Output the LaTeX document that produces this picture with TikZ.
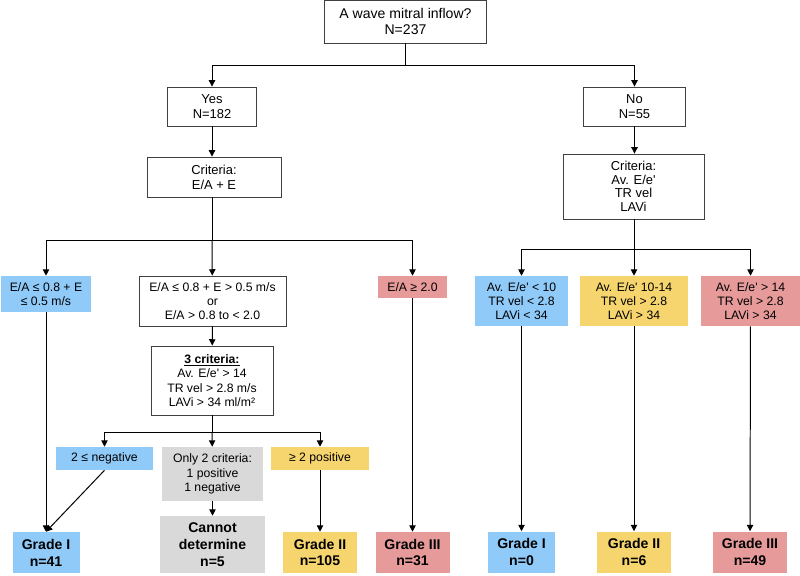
\documentclass[tikz,border=0pt]{standalone}
\usepackage{fontspec}
\setmainfont{Liberation Sans}[Ligatures=TeXOff]
\usepackage{xcolor}
\usepackage{tikz}
\usetikzlibrary{arrows.meta,positioning}
\definecolor{figBlue}{HTML}{8FCAF9}
\definecolor{figYellow}{HTML}{F7D56E}
\definecolor{figRed}{HTML}{E69A9A}
\definecolor{figGray}{HTML}{D9D9D9}
\definecolor{figDark}{HTML}{404040}
\newdimen\pxu \pxu=0.025cm

\begin{document}
\begin{tikzpicture}[
  x=0.025cm, y=-0.025cm,
  box/.style={
    rectangle, draw=figDark, line width=0.6pt, fill=white,
    align=center, inner sep=1pt,
    font=\fontsize{8.7}{10.2}\selectfont
  },
  step box/.style={
    box, font=\fontsize{9.2}{10.6}\selectfont
  },
  tint/.style={
    rectangle, align=center, inner sep=1pt,
    font=\fontsize{8.7}{10.2}\selectfont
  },
  grade/.style={
    tint, font=\fontsize{10}{12}\selectfont\bfseries,
    minimum height=41\pxu
  },
  arr/.style={-{Triangle[length=4.5pt,width=4.5pt]}, line width=0.7pt, black}
]
\useasboundingbox (0,0) rectangle (800,576);

% Root
\node[box, font=\fontsize{10}{12}\selectfont, minimum width=162\pxu, minimum height=43\pxu]
  (root) at (405.5,21.5) {A wave mitral inflow?\\N=237};

% Yes branch
\node[step box, minimum width=89\pxu, minimum height=39\pxu]
  (yes) at (212,106.5) {Yes\\N=182};
\node[step box, minimum width=134\pxu, minimum height=40\pxu]
  (critA) at (214,177) {Criteria:\\E/A + E};

\node[tint, fill=figBlue, minimum width=90\pxu, minimum height=36\pxu]
  (eaLow) at (46,294) {E/A ≤ 0.8 + E\\≤ 0.5 m/s};
\node[box, minimum width=147\pxu, minimum height=50\pxu]
  (eaMid) at (212.5,301) {E/A ≤ 0.8 + E > 0.5 m/s\\or\\E/A > 0.8 to < 2.0};
\node[tint, fill=figRed, minimum width=69\pxu, minimum height=22\pxu]
  (eaHigh) at (412.5,287) {E/A ≥ 2.0};

\node[box, minimum width=122\pxu, minimum height=69\pxu]
  (three) at (212,380.5) {\underline{\textbf{3 criteria:}}\\Av. E/e' > 14\\TR vel > 2.8 m/s\\LAVi > 34 ml/m²};

\node[tint, fill=figBlue, minimum width=97\pxu, minimum height=23\pxu]
  (neg) at (104.5,458.5) {2 ≤ negative};
\node[tint, fill=figGray, minimum width=101\pxu, minimum height=54\pxu]
  (onlyTwo) at (212.5,474) {Only 2 criteria:\\1 positive\\1 negative};
\node[tint, fill=figYellow, minimum width=98\pxu, minimum height=23\pxu]
  (pos) at (320,458.5) {≥ 2 positive};

\node[grade, fill=figBlue, minimum width=67\pxu] (gradeOneA) at (46,552.5) {Grade I\\n=41};
\node[grade, fill=figGray, minimum width=105\pxu, minimum height=57\pxu]
  (unknown) at (212.5,544.5) {Cannot\\determine\\n=5};
\node[grade, fill=figYellow, minimum width=74\pxu] (gradeTwoA) at (320,552.5) {Grade II\\n=105};
\node[grade, fill=figRed, minimum width=74\pxu] (gradeThreeA) at (412.5,552.5) {Grade III\\n=31};

% No branch
\node[step box, minimum width=102\pxu, minimum height=39\pxu]
  (no) at (634.5,106.5) {No\\N=55};
\node[step box, font=\fontsize{9.2}{9.6}\selectfont, minimum width=141\pxu, minimum height=65\pxu]
  (critB) at (633.5,186.5) {Criteria:\\Av. E/e'\\TR vel\\LAVi};

\node[tint, fill=figBlue, minimum width=93\pxu, minimum height=50\pxu]
  (rLow) at (521.5,301) {Av. E/e' < 10\\TR vel < 2.8\\LAVi < 34};
\node[tint, fill=figYellow, minimum width=108\pxu, minimum height=50\pxu]
  (rMid) at (634,301) {Av. E/e' 10-14\\TR vel > 2.8\\LAVi > 34};
\node[tint, fill=figRed, minimum width=99\pxu, minimum height=50\pxu]
  (rHigh) at (750.5,301) {Av. E/e' > 14\\TR vel > 2.8\\LAVi > 34};

\node[grade, fill=figBlue, minimum width=67\pxu] (gradeOneB) at (521.5,552) {Grade I\\n=0};
\node[grade, fill=figYellow, minimum width=74\pxu] (gradeTwoB) at (634,552) {Grade II\\n=6};
\node[grade, fill=figRed, minimum width=74\pxu] (gradeThreeB) at (750,552) {Grade III\\n=49};

% Split points
\coordinate (splitRoot) at (405.5,65);
\coordinate (splitA) at (212,240);
\coordinate (splitB) at (634,249);
\coordinate (splitC) at (212,432);

% Arrows
\draw[line width=0.7pt] (root) -- (splitRoot);
\draw[arr] (splitRoot) -| (yes);
\draw[arr] (splitRoot) -| (no);

\draw[arr] (yes) -- (yes |- critA.north);
\draw[line width=0.7pt] (critA.south -| splitA) -- (splitA);
\draw[arr] (splitA) -| (eaLow);
\draw[arr] (splitA) -- (eaMid);
\draw[arr] (splitA) -| (eaHigh);
\draw[arr] (eaMid) -- (three);
\draw[line width=0.7pt] (three) -- (splitC);
\draw[arr] (splitC) -| (neg);
\draw[arr] (splitC) -- (onlyTwo);
\draw[arr] (splitC) -| (pos);

\draw[arr] (eaLow) -- (gradeOneA);
\draw[arr] (neg.south) -- (gradeOneA.north);
\draw[arr] (onlyTwo) -- (unknown);
\draw[arr] (pos) -- (gradeTwoA);
\draw[arr] (eaHigh) -- (gradeThreeA);

\draw[arr] (no) -- (no |- critB.north);
\draw[line width=0.7pt] (critB.south -| splitB) -- (splitB);
\draw[arr] (splitB) -| (rLow);
\draw[arr] (splitB) -- (rMid);
\draw[arr] (splitB) -| (rHigh);
\draw[arr] (rLow) -- (gradeOneB);
\draw[arr] (rMid) -- (gradeTwoB);
\draw[arr] (rHigh) -- (gradeThreeB);

\end{tikzpicture}
\end{document}
